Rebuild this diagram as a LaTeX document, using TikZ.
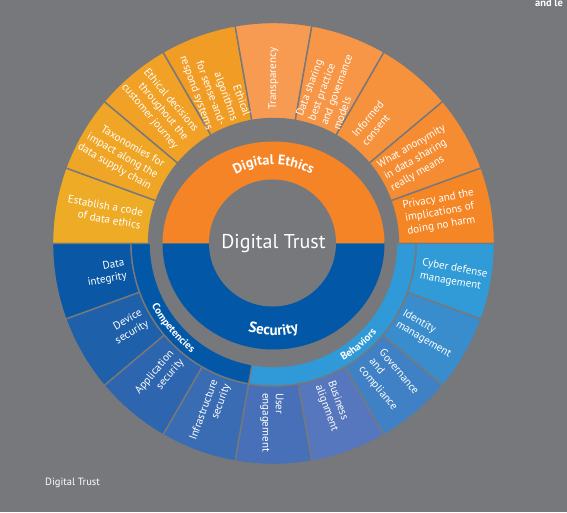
\documentclass[tikz,border=0pt]{standalone}
\usepackage{fontspec}
\setmainfont{PT Sans}
\setsansfont{PT Sans}
\usetikzlibrary{decorations.text}
\definecolor{bg}{RGB}{119,120,124}
\definecolor{ethicsC}{RGB}{245,132,38}
\definecolor{secC}{RGB}{2,88,166}
\definecolor{behC}{RGB}{47,154,215}
\definecolor{uA}{RGB}{237,171,38}
\definecolor{uB}{RGB}{239,166,38}
\definecolor{uC}{RGB}{240,161,38}
\definecolor{uD}{RGB}{241,157,37}
\definecolor{uE}{RGB}{248,155,82}
\definecolor{uF}{RGB}{247,150,70}
\definecolor{uG}{RGB}{246,145,60}
\definecolor{uH}{RGB}{245,140,50}
\definecolor{uI}{RGB}{245,134,38}
\definecolor{lA}{RGB}{10,88,165}
\definecolor{lB}{RGB}{31,96,170}
\definecolor{lC}{RGB}{45,101,174}
\definecolor{lD}{RGB}{58,108,180}
\definecolor{lE}{RGB}{72,112,184}
\definecolor{lF}{RGB}{86,119,189}
\definecolor{lG}{RGB}{64,129,197}
\definecolor{lH}{RGB}{57,141,205}
\definecolor{lI}{RGB}{48,155,214}
\newcommand{\annsec}[5]{\fill[#1,draw=bg,line width=1.4pt] (#2:#4) arc[start angle=#2,end angle=#3,radius=#4] -- (#3:#5) arc[start angle=#3,end angle=#2,radius=#5] -- cycle;}
\tikzset{
  lbl/.style={text=white,font=\fontsize{11}{13.2}\selectfont,inner sep=0pt},
  lftlbl/.style={lbl,align=right},
  rgtlbl/.style={lbl,align=left}
}
\begin{document}
\begin{tikzpicture}[x=1pt,y=1pt]
\fill[bg] (0,0) rectangle (567,512);
\useasboundingbox (0,0) rectangle (567,512);
\begin{scope}[shift={(273.5,268.5)}]
% upper outer ring
\annsec{uA}{180}{160}{125pt}{221pt}
\annsec{uB}{160}{140}{125pt}{221pt}
\annsec{uC}{140}{120}{125pt}{221pt}
\annsec{uD}{120}{100}{125pt}{221pt}
\annsec{uE}{100}{80}{125pt}{221pt}
\annsec{uF}{80}{60}{125pt}{221pt}
\annsec{uG}{60}{40}{125pt}{221pt}
\annsec{uH}{40}{20}{125pt}{221pt}
\annsec{uI}{20}{0}{125pt}{221pt}
% lower outer ring
\annsec{lA}{-180}{-160}{142.5pt}{221pt}
\annsec{lB}{-160}{-140}{142.5pt}{221pt}
\annsec{lC}{-140}{-120}{142.5pt}{221pt}
\annsec{lD}{-120}{-100}{142.5pt}{221pt}
\annsec{lE}{-100}{-80}{142.5pt}{221pt}
\annsec{lF}{-80}{-60}{142.5pt}{221pt}
\annsec{lG}{-60}{-40}{142.5pt}{221pt}
\annsec{lH}{-40}{-20}{142.5pt}{221pt}
\annsec{lI}{-20}{0}{142.5pt}{221pt}
% middle ring
\annsec{secC}{-180}{-100}{123pt}{142.5pt}
\annsec{behC}{-100}{0}{123pt}{142.5pt}
% inner ring
\fill[ethicsC] (-111pt,0) arc[start angle=180,end angle=0,x radius=111pt,y radius=102pt] -- cycle;
\fill[secC] (-111pt,0) arc[start angle=180,end angle=360,x radius=111pt,y radius=106pt] -- cycle;
\draw[bg!70!secC,line width=0.6pt] (-111pt,0) -- (111pt,0);
\fill[bg] (-1pt,0.5pt) circle[radius=63.5pt];
\node[text=white,font=\fontsize{20}{24}\selectfont,inner sep=0pt] (dt) at (0,0) {Digital Trust};
% curved labels
\path[decorate,decoration={text along path,text align=center,text color=white,
  text={|\fontsize{14}{14}\selectfont\bfseries|Digital Ethics}}]
  (150:79pt) arc[start angle=150,end angle=30,radius=79pt];
\path[decorate,decoration={text along path,text align=center,text color=white,
  text={|\fontsize{15}{15}\selectfont\bfseries|Security}}]
  (210:92pt) arc[start angle=210,end angle=330,radius=92pt];
\path[decorate,decoration={text along path,text align=center,text color=white,
  text={|\fontsize{10.5}{10.5}\selectfont\bfseries|Competencies}}]
  (-180:136.5pt) arc[start angle=-180,end angle=-100,radius=136.5pt];
\path[decorate,decoration={text along path,text align=center,text color=white,
  text={|\fontsize{10.5}{10.5}\selectfont\bfseries|Behaviors}}]
  (-100:136.5pt) arc[start angle=-100,end angle=0,radius=136.5pt];
% upper labels
\node[lftlbl,rotate=-10] (s1) at (169.5:172pt) {Establish a code\\of data ethics};
\node[lftlbl,rotate=-30] (s2) at (150:176pt) {Taxonomies for\\impact along the\\data supply chain};
\node[lftlbl,rotate=-50] (s3) at (130:177pt) {Ethical decisions\\throughout the\\customer journey};
\node[lftlbl,rotate=-70] (s4) at (110.5:168pt) {Ethical\\algorithms\\for sense-and-\\respond systems};
\node[rgtlbl,rotate=90] (s5) at (90:165pt) {Transparency};
\node[rgtlbl,rotate=70] (s6) at (70:166pt) {Data sharing\\best practice\\and governance\\models};
\node[rgtlbl,rotate=50] (s7) at (50.5:156pt) {Informed\\consent};
\node[rgtlbl,rotate=30] (s8) at (30.5:168pt) {What anonymity\\in data sharing\\really means};
\node[rgtlbl,rotate=10] (s9) at (10.5:170pt) {Privacy and the\\implications of\\doing no harm};
% lower labels
\node[lftlbl,rotate=10] (t1) at (-170:170pt) {Data\\integrity};
\node[lftlbl,rotate=30] (t2) at (-150:167pt) {Device\\security};
\node[lftlbl,rotate=50] (t3) at (-130.5:175pt) {Application\\security};
\node[lftlbl,rotate=70] (t4) at (-110.5:180pt) {Infrastructure\\security};
\node[rgtlbl,rotate=-90] (t5) at (-90.5:179pt) {User\\engagement};
\node[rgtlbl,rotate=-70] (t6) at (-70:173pt) {Business\\alignment};
\node[rgtlbl,rotate=-50] (t7) at (-50:179pt) {Governance\\and\\compliance};
\node[rgtlbl,rotate=-30] (t8) at (-30.5:178pt) {Identity\\management};
\node[rgtlbl,rotate=-10] (t9) at (-10:183pt) {Cyber defense\\management};
\end{scope}
% page texts
\node[text=white,font=\fontsize{10.5}{12}\selectfont,anchor=base west,inner sep=0pt] (foot) at (45,27) {Digital Trust};
\node[text=white,font=\fontsize{10.5}{12}\selectfont\bfseries,anchor=base west,inner sep=0pt] (top) at (535,505.5) {and le};
\end{tikzpicture}
\end{document}
